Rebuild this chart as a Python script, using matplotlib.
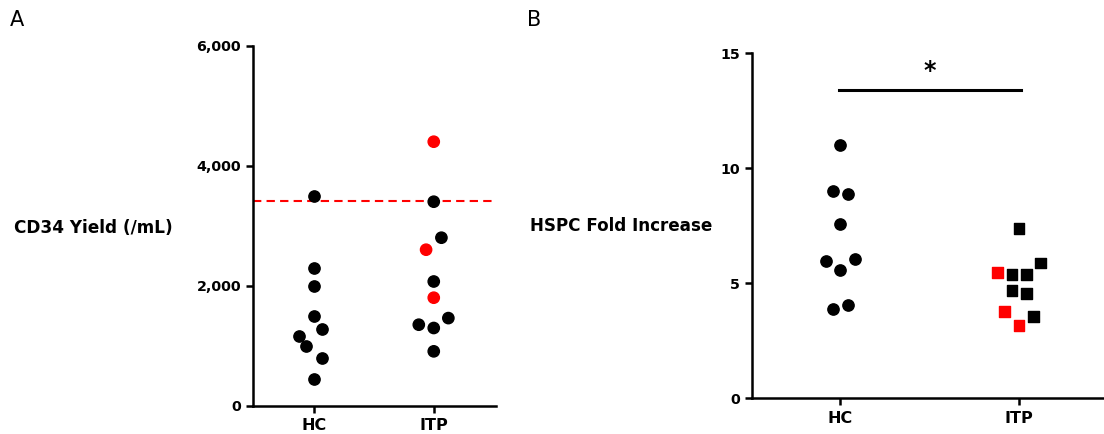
import matplotlib.pyplot as plt

# данные панели A: выход CD34 (/mL)
hc_yield = [3500, 2300, 2000, 1500, 1280, 1160, 1000, 790, 445]
itp_yield = [4400, 3400, 2800, 2600, 2070, 1800, 1460, 1350, 1295, 906]
itp_yield_red = [True, False, False, True, False, True, False, False, False, False]
yield_threshold = 3420

# данные панели B: кратность увеличения HSPC
hc_fold = [11.0, 9.0, 8.87, 7.58, 5.97, 6.06, 5.56, 3.88, 4.06]
itp_fold = [7.39, 5.88, 5.48, 5.39, 5.39, 4.68, 4.56, 3.77, 3.16, 3.56]
itp_fold_red = [False, False, True, False, False, False, False, True, True, False]

groups = ['HC', 'ITP']

# смещения точек по x (раскладка)
hc_yield_dx = [0, 0, 0, 0, 0.064, -0.125, -0.064, 0.064, 0]
itp_yield_dx = [0, 0, 0.064, -0.064, 0, 0, 0.122, -0.125, 0, 0]
hc_fold_dx = [0, -0.041, 0.041, 0, -0.08, 0.082, 0, -0.041, 0.041]
itp_fold_dx = [0, 0.119, -0.119, -0.04, 0.041, -0.04, 0.041, -0.08, 0, 0.08]

plt.rcParams['font.family'] = 'DejaVu Sans'
fig = plt.figure(figsize=(11.04, 4.34), dpi=100)

def style_axes(ax):
    for s in ['top', 'right']:
        ax.spines[s].set_visible(False)
    for s in ['left', 'bottom']:
        ax.spines[s].set_linewidth(1.8)
    ax.tick_params(width=1.8, length=5)
    ax.tick_params(axis='y', labelsize=10.3)
    ax.tick_params(axis='x', labelsize=11.5, pad=4)
    for lbl in ax.get_xticklabels() + ax.get_yticklabels():
        lbl.set_fontweight('bold')

# панель A
ax1 = fig.add_axes([253 / 1104, 28.3 / 434, 243 / 1104, 360 / 434])
ax1.set_xlim(-0.51, 1.52)
ax1.set_ylim(0, 6000)
ax1.axhline(yield_threshold, color='red', ls=(0, (4, 2.5)), lw=1.5, zorder=1)
ax1.scatter([0 + d for d in hc_yield_dx], hc_yield, s=66, color='black', zorder=3)
ax1.scatter([1 + d for d in itp_yield_dx], itp_yield, s=66,
            color=['red' if r else 'black' for r in itp_yield_red], zorder=3)
ax1.set_xticks([0, 1])
ax1.set_xticklabels(groups)
ax1.set_yticks([0, 2000, 4000, 6000])
ax1.set_yticklabels(['0', '2,000', '4,000', '6,000'])
style_axes(ax1)

# панель B
ax2 = fig.add_axes([751.7 / 1104, 35.7 / 434, 352.3 / 1104, 345 / 434])
ax2.set_xlim(-0.496, 1.476)
ax2.set_ylim(0, 15)
ax2.scatter([0 + d for d in hc_fold_dx], hc_fold, s=66, color='black', zorder=3)
ax2.scatter([1 + d for d in itp_fold_dx], itp_fold, s=58, marker='s',
            color=['red' if r else 'black' for r in itp_fold_red], zorder=3)
ax2.plot([-0.01, 1.01], [13.4, 13.4], color='black', lw=2.2)
ax2.text(0.5, 13.7, '*', ha='center', va='bottom', fontsize=17, fontweight='bold')
ax2.set_xticks([0, 1])
ax2.set_xticklabels(groups)
ax2.set_yticks([0, 5, 10, 15])
style_axes(ax2)

# подписи осей и панелей
fig.text(14 / 1104, 1 - 228 / 434, 'CD34 Yield (/mL)', fontsize=12.2, fontweight='bold', va='center')
fig.text(530 / 1104, 1 - 226 / 434, 'HSPC Fold Increase', fontsize=12.1, fontweight='bold', va='center')
fig.text(10 / 1104, 1 - 20 / 434, 'A', fontsize=15, va='center')
fig.text(527 / 1104, 1 - 20 / 434, 'B', fontsize=15, va='center')

plt.savefig('out.png', dpi=100)
